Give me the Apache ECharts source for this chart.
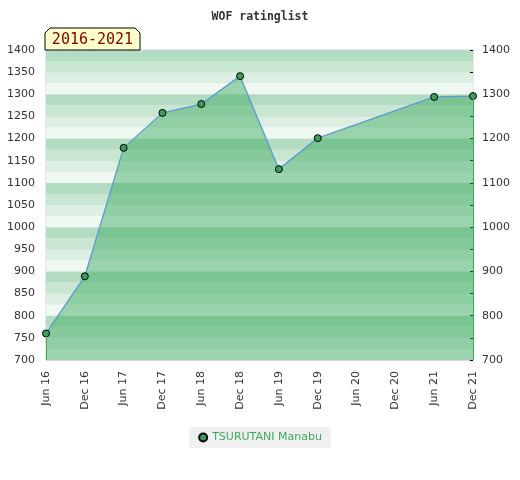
<!DOCTYPE html>
<html lang="en">

<head>
    <meta charset="UTF-8">
    <title>WOF ratinglist</title>
    <script src="https://cdn.jsdelivr.net/npm/echarts@6/dist/echarts.min.js"></script>
    <style>
        body { margin: 0; background: #fff; }
    </style>
</head>

<body>
    <div id="main" style="width: 520px;height:480px;"></div>

    <script>
        // data
        const periods = ['Jun 16', 'Dec 16', 'Jun 17', 'Dec 17', 'Jun 18', 'Dec 18',
            'Jun 19', 'Dec 19', 'Jun 20', 'Dec 20', 'Jun 21', 'Dec 21'];
        const ratings = [760, 889, 1179, 1258, 1278, 1341, 1131, 1201, null, null, 1294, 1296];
        const playerName = 'TSURUTANI Manabu';
        const badgeText = '2016-2021';

        // stripes from the bottom up: lightest, lighter, medium, dark
        const stripeColors = ['#f0f8f2', '#ddefe3', '#c9e6d3', '#b3dcc2'];

        const firstIdx = 0;
        const lastIdx = ratings.length - 1;

        const myChart = echarts.init(document.getElementById('main'));

        const axisFont = { color: '#333', fontSize: 11, fontFamily: 'DejaVu Sans' };
        const plain = (v) => String(v);

        let option = {
            animation: false,
            title: {
                text: 'WOF ratinglist',
                left: 'center',
                top: 6,
                textStyle: { fontFamily: 'DejaVu Sans Mono', fontSize: 11.5, fontWeight: 'bold', color: '#333' }
            },
            legend: {
                data: [playerName],
                top: 427,
                left: 'center',
                icon: 'circle',
                itemWidth: 8,
                itemHeight: 8,
                itemGap: 6,
                backgroundColor: '#f0f0f0',
                padding: [5, 9, 5, 9],
                textStyle: { color: '#3aaa5a', fontSize: 11, fontFamily: 'DejaVu Sans' }
            },
            grid: {
                left: 46, right: 47, top: 50, bottom: 120,
                show: true, borderColor: '#d0d0d0', borderWidth: 1
            },
            graphic: [
                {
                    type: 'polygon',
                    z: 100,
                    shape: { points: [[45, 50], [45, 33], [50, 28], [135, 28], [140, 33], [140, 50]] },
                    style: { fill: '#ffffcc', stroke: '#000', lineWidth: 1 }
                },
                {
                    type: 'text',
                    z: 101,
                    x: 92.5, y: 40,
                    style: {
                        text: badgeText, fill: '#800000', fontSize: 15,
                        fontFamily: 'DejaVu Sans Mono', align: 'center', verticalAlign: 'middle'
                    }
                }
            ],
            xAxis: {
                type: 'category',
                data: periods,
                boundaryGap: false,
                axisLine: { show: false },
                axisTick: { show: false },
                axisLabel: Object.assign({ rotate: 90, margin: 11, interval: 0 }, axisFont)
            },
            yAxis: [
                {
                    type: 'value', min: 700, max: 1400, interval: 50,
                    position: 'left',
                    axisLine: { show: false },
                    axisTick: { show: false },
                    axisLabel: Object.assign({ margin: 11, formatter: plain }, axisFont),
                    splitLine: { lineStyle: { color: '#d8d8d8', width: 1 } }
                },
                {
                    type: 'value', min: 700, max: 1400, interval: 100,
                    position: 'right',
                    axisLine: { show: false },
                    axisTick: { show: true, inside: true, length: 3, lineStyle: { color: '#000' } },
                    minorTick: { show: true, splitNumber: 2, length: 3, lineStyle: { color: '#000' } },
                    axisLabel: Object.assign({ margin: 9, formatter: plain }, axisFont),
                    splitLine: { show: false }
                },
                {
                    // only for the background stripes
                    type: 'value', min: 700, max: 1400, interval: 25,
                    position: 'left',
                    axisLine: { show: false },
                    axisTick: { show: false },
                    axisLabel: { show: false },
                    splitLine: { show: false },
                    splitArea: { show: true, areaStyle: { color: stripeColors } }
                }
            ],
            series: [
                {
                    name: playerName,
                    type: 'line',
                    data: ratings,
                    connectNulls: true,
                    clip: false,
                    symbol: 'circle',
                    symbolSize: 7,
                    itemStyle: { color: '#3a9d5a', borderColor: '#000', borderWidth: 1 },
                    lineStyle: { color: '#5b9bd5', width: 1.3 },
                    areaStyle: { color: 'rgb(55,168,90)', opacity: 0.46, origin: 'start' },
                    z: 3,
                    markLine: {
                        silent: true,
                        symbol: 'none',
                        label: { show: false },
                        lineStyle: { color: '#3aaa5a', width: 1, type: 'solid' },
                        data: [
                            [{ coord: [periods[firstIdx], 700] }, { coord: [periods[firstIdx], ratings[firstIdx]] }],
                            [{ coord: [periods[lastIdx], 700] }, { coord: [periods[lastIdx], ratings[lastIdx]] }]
                        ]
                    }
                }
            ]
        };

        myChart.setOption(option);
    </script>
</body>

</html>
